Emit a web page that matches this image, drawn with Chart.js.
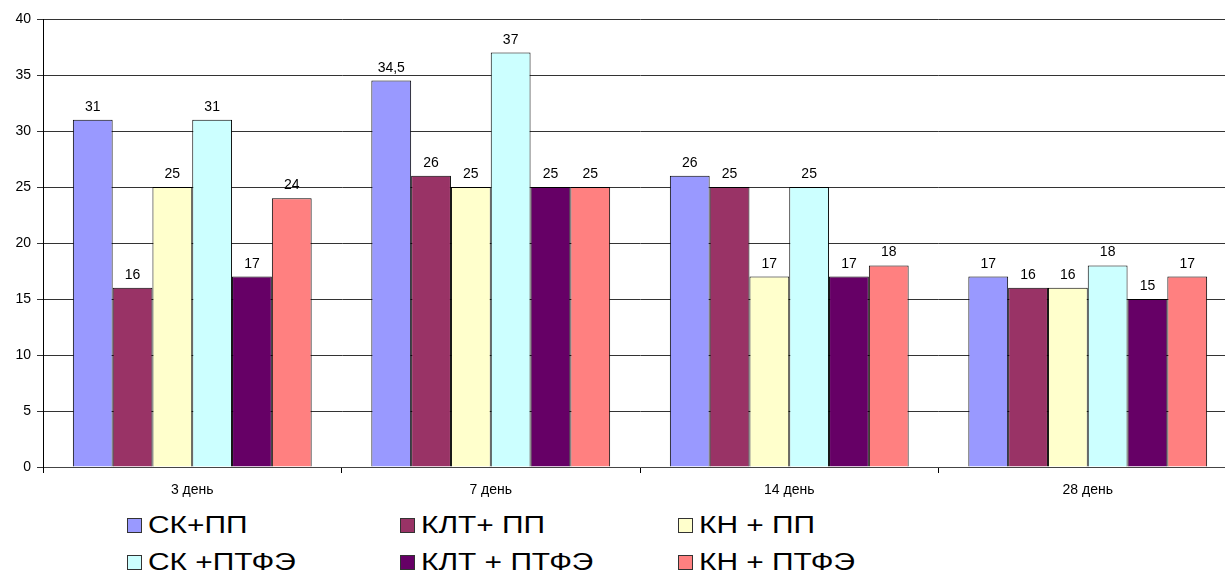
<!DOCTYPE html>
<html>
<head>
<meta charset="utf-8">
<script src="https://cdn.jsdelivr.net/npm/chart.js@4"></script>
<style>
  body { margin: 0; background: #fff; overflow: hidden; width: 1225px; height: 572px; position: relative; }
  #wrap { position: absolute; left: 0; top: 0; width: 1250px; height: 505px; }
  #legend { position: absolute; left: 0; top: 0; font-family: "Liberation Sans", Arial, sans-serif; }
  .item { position: absolute; display: flex; align-items: center; height: 30px; }
  .box { width: 15px; height: 15px; border: 1px solid #333; box-sizing: border-box; margin-right: 6px; }
  .txt { font-size: 23px; color: #000; white-space: nowrap; transform: scaleX(1.3); transform-origin: left center; }
</style>
</head>
<body>
<div id="wrap"><canvas id="chart"></canvas></div>
<div id="legend"></div>
<script>
const categories = ['3 день', '7 день', '14 день', '28 день'];
const seriesNames = ['СК+ПП', 'КЛТ+ ПП', 'КН + ПП', 'СК +ПТФЭ', 'КЛТ + ПТФЭ', 'КН + ПТФЭ'];
const seriesColors = ['#9999FF', '#993366', '#FFFFCC', '#CCFFFF', '#660066', '#FF8080'];

const skPP = [31, 34.5, 26, 17];
const kltPP = [16, 26, 25, 16];
const knPP = [25, 25, 17, 16];
const skPTFE = [31, 37, 25, 18];
const kltPTFE = [17, 25, 17, 15];
const knPTFE = [24, 25, 18, 17];
const seriesValues = [skPP, kltPP, knPP, skPTFE, kltPTFE, knPTFE];

const yTicks = [0, 5, 10, 15, 20, 25, 30, 35, 40];

const fontFamily = '"Liberation Sans", Arial, sans-serif';

// value labels above each bar
const barLabels = {
  id: 'barLabels',
  afterDatasetsDraw(chart) {
    const ctx = chart.ctx;
    ctx.save();
    ctx.font = '14px ' + fontFamily;
    ctx.fillStyle = '#000';
    ctx.textAlign = 'center';
    ctx.textBaseline = 'alphabetic';
    chart.data.datasets.forEach((ds, i) => {
      chart.getDatasetMeta(i).data.forEach((bar, j) => {
        const txt = String(ds.data[j]).replace('.', ',');
        ctx.fillText(txt, bar.x, bar.y - 9);
      });
    });
    ctx.restore();
  }
};

const datasets = seriesNames.map((name, i) => ({
  label: name,
  data: seriesValues[i],
  backgroundColor: seriesColors[i],
  borderColor: '#000',
  borderWidth: 1,
  categoryPercentage: 0.8,
  barPercentage: 1.0
}));

let myChart = new Chart(document.getElementById('chart'), {
  type: 'bar',
  plugins: [barLabels],
  data: { labels: categories, datasets: datasets },
  options: {
    responsive: true,
    maintainAspectRatio: false,
    animation: false,
    layout: { padding: { left: 0, right: 13, top: 19, bottom: 0 } },
    plugins: {
      legend: { display: false },
      tooltip: { enabled: false }
    },
    scales: {
      x: {
        grid: { offset: true, drawOnChartArea: false, drawTicks: true, tickLength: 6, color: '#000' },
        border: { color: '#444', width: 1 },
        ticks: { color: '#000', font: { family: fontFamily, size: 14 }, padding: 9 },
        afterFit: (s) => { s.height = 38; }
      },
      y: {
        min: 0,
        max: 40,
        afterBuildTicks: (s) => { s.ticks = yTicks.map(v => ({ value: v })); },
        grid: { color: '#333', tickLength: 6, drawTicks: true },
        border: { color: '#000', width: 1 },
        ticks: { color: '#000', font: { family: fontFamily, size: 14 }, padding: 6 },
        afterFit: (s) => { s.width = 43; }
      }
    }
  }
});

// legend in two rows of three, like the original
const legend = document.getElementById('legend');
const colX = [127, 400, 678];
const rowY = [510, 547];
seriesNames.forEach((name, i) => {
  const item = document.createElement('div');
  item.className = 'item';
  item.style.left = colX[i % 3] + 'px';
  item.style.top = rowY[Math.floor(i / 3)] + 'px';
  item.innerHTML = '<div class="box" style="background:' + seriesColors[i] + '"></div><span class="txt">' + name + '</span>';
  legend.appendChild(item);
});
</script>
</body>
</html>
